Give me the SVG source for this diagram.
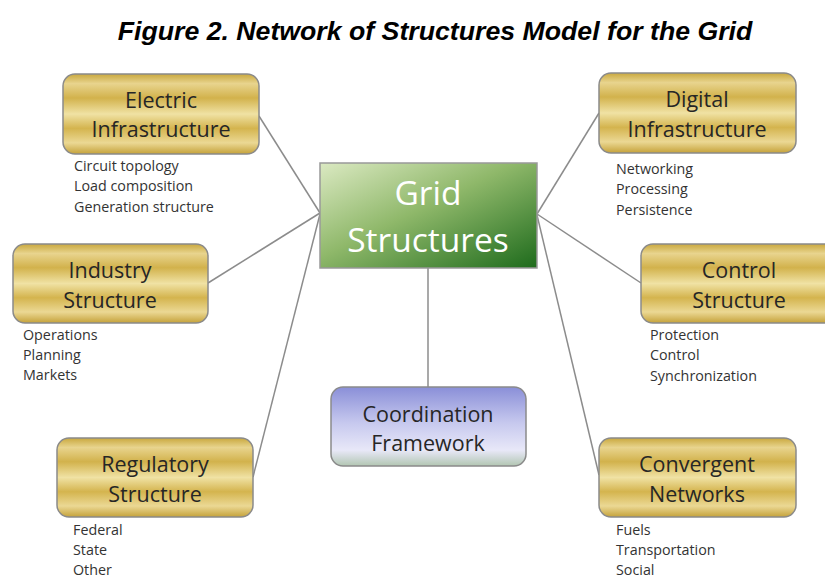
<svg xmlns="http://www.w3.org/2000/svg" width="825" height="579" viewBox="0 0 825 579">
<defs>
  <linearGradient id="gold" x1="0" y1="0" x2="0" y2="1">
    <stop offset="0" stop-color="#c9a83e"/>
    <stop offset="0.12" stop-color="#e8d48e"/>
    <stop offset="0.3" stop-color="#d2b24c"/>
    <stop offset="0.5" stop-color="#f0e2a4"/>
    <stop offset="0.68" stop-color="#d4b44e"/>
    <stop offset="0.86" stop-color="#ebd894"/>
    <stop offset="1" stop-color="#c5a23a"/>
  </linearGradient>
  <linearGradient id="green" x1="0" y1="0" x2="1" y2="1">
    <stop offset="0" stop-color="#dbe9c2"/>
    <stop offset="0.45" stop-color="#8fb86a"/>
    <stop offset="1" stop-color="#1e6b1c"/>
  </linearGradient>
  <linearGradient id="blue" x1="0" y1="0" x2="0" y2="1">
    <stop offset="0" stop-color="#8a8fd8"/>
    <stop offset="0.45" stop-color="#c6c8ee"/>
    <stop offset="0.8" stop-color="#e8e8f8"/>
    <stop offset="1" stop-color="#b2c6b2"/>
  </linearGradient>
  <style>
    .gold { fill: url(#gold); stroke: #8a8a8a; stroke-width: 1.5; }
    .lbl { font-family: "Open Sans", "Liberation Sans", sans-serif; font-size: 21.5px; fill: #262626; text-anchor: middle; }
    .sub { font-family: "Open Sans", "Liberation Sans", sans-serif; font-size: 14.3px; fill: #333333; }
    .conn line { stroke: #8c8c8c; stroke-width: 1.5; }
  </style>
</defs>
<rect width="825" height="579" fill="#ffffff"/>
<text x="435" y="40" font-family="Liberation Sans, Arial, sans-serif" font-size="26.7" font-weight="bold" font-style="italic" text-anchor="middle" fill="#000">Figure 2. Network of Structures Model for the Grid</text>

<g id="connectors" class="conn">
  <line x1="259" y1="116" x2="320" y2="213"/>
  <line x1="208" y1="283" x2="320" y2="213"/>
  <line x1="253" y1="477" x2="320" y2="214"/>
  <line x1="599" y1="113" x2="537" y2="214"/>
  <line x1="641" y1="283" x2="537" y2="214"/>
  <line x1="599" y1="475" x2="537" y2="215"/>
  <line x1="428" y1="268" x2="428" y2="387"/>
</g>

<g id="grid-structures">
  <rect x="320" y="163" width="217" height="105" fill="url(#green)" stroke="#999" stroke-width="1.5"/>
  <text x="428" y="205" font-family="Open Sans, Liberation Sans, sans-serif" font-size="33.5" fill="#ffffff" text-anchor="middle">Grid</text>
  <text x="428" y="252" font-family="Open Sans, Liberation Sans, sans-serif" font-size="33.5" fill="#ffffff" text-anchor="middle">Structures</text>
</g>

<g id="coordination-framework">
  <rect x="331" y="387" width="195" height="79" rx="12" fill="url(#blue)" stroke="#8a8a8a" stroke-width="1.5"/>
  <text class="lbl" x="428" y="422">Coordination</text>
  <text class="lbl" x="428" y="451">Framework</text>
</g>

<g id="electric-infrastructure">
  <rect class="gold" x="63" y="74" width="196" height="80" rx="12"/>
  <text class="lbl" x="161" y="108">Electric</text>
  <text class="lbl" x="161" y="137">Infrastructure</text>
  <text class="sub" x="74" y="171">Circuit topology</text>
  <text class="sub" x="74" y="191">Load composition</text>
  <text class="sub" x="74" y="212">Generation structure</text>
</g>

<g id="digital-infrastructure">
  <rect class="gold" x="599" y="73" width="197" height="80" rx="12"/>
  <text class="lbl" x="697" y="107">Digital</text>
  <text class="lbl" x="697" y="137">Infrastructure</text>
  <text class="sub" x="616" y="174">Networking</text>
  <text class="sub" x="616" y="194">Processing</text>
  <text class="sub" x="616" y="215">Persistence</text>
</g>

<g id="industry-structure">
  <rect class="gold" x="13" y="244" width="195" height="79" rx="12"/>
  <text class="lbl" x="110" y="278">Industry</text>
  <text class="lbl" x="110" y="308">Structure</text>
  <text class="sub" x="23" y="340">Operations</text>
  <text class="sub" x="23" y="360">Planning</text>
  <text class="sub" x="23" y="380">Markets</text>
</g>

<g id="control-structure">
  <rect class="gold" x="641" y="244" width="196" height="79" rx="12"/>
  <text class="lbl" x="739" y="278">Control</text>
  <text class="lbl" x="739" y="308">Structure</text>
  <text class="sub" x="650" y="340">Protection</text>
  <text class="sub" x="650" y="360">Control</text>
  <text class="sub" x="650" y="381">Synchronization</text>
</g>

<g id="regulatory-structure">
  <rect class="gold" x="57" y="438" width="196" height="79" rx="12"/>
  <text class="lbl" x="155" y="472">Regulatory</text>
  <text class="lbl" x="155" y="502">Structure</text>
  <text class="sub" x="73" y="535">Federal</text>
  <text class="sub" x="73" y="555">State</text>
  <text class="sub" x="73" y="575">Other</text>
</g>

<g id="convergent-networks">
  <rect class="gold" x="599" y="438" width="197" height="79" rx="12"/>
  <text class="lbl" x="697" y="472">Convergent</text>
  <text class="lbl" x="697" y="502">Networks</text>
  <text class="sub" x="616" y="535">Fuels</text>
  <text class="sub" x="616" y="555">Transportation</text>
  <text class="sub" x="616" y="575">Social</text>
</g>
</svg>
